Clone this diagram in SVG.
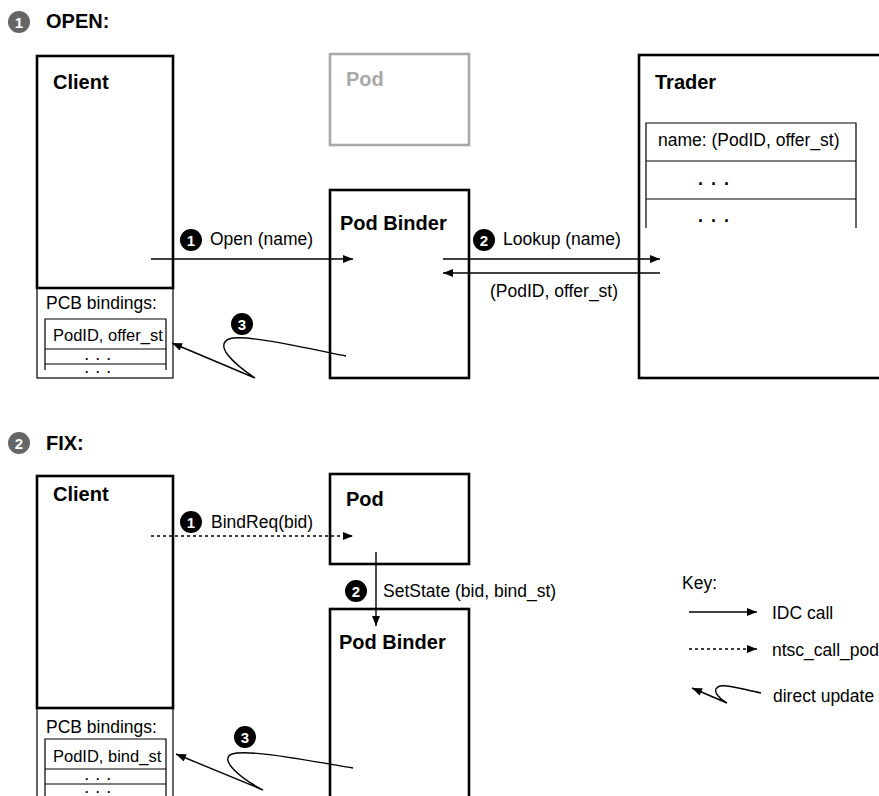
<svg xmlns="http://www.w3.org/2000/svg" width="879" height="796" viewBox="0 0 879 796">
<defs>
<marker id="ah" viewBox="0 0 10 8" refX="10" refY="4" markerWidth="11" markerHeight="8" markerUnits="userSpaceOnUse" orient="auto">
<path d="M0,0 L10,4 L0,8 Z" fill="#000"/>
</marker>
<style>
.thick{fill:none;stroke:#000;stroke-width:2.6}
.thin{fill:none;stroke:#000;stroke-width:1.2}
.grey{fill:none;stroke:#a8a8a8;stroke-width:2.6}
.b{font-family:"Liberation Sans",Arial,sans-serif;font-weight:bold;font-size:20px;fill:#000}
.t{font-family:"Liberation Sans",Arial,sans-serif;font-size:17.5px;fill:#000}
.dots{font-family:"Liberation Sans",Arial,sans-serif;font-weight:bold;font-size:18px;fill:#000;letter-spacing:1.5px;font-variant-ligatures:none}
.sdots{font-family:"Liberation Sans",Arial,sans-serif;font-weight:bold;font-size:12.5px;fill:#000;letter-spacing:2px;font-variant-ligatures:none}
.arr{fill:none;stroke:#000;stroke-width:1.4}
.dash{fill:none;stroke:#000;stroke-width:1.4;stroke-dasharray:3,3}
.bn{font-family:"Liberation Sans",Arial,sans-serif;font-weight:bold;font-size:15px;fill:#fff;text-anchor:middle}
</style>
</defs>
<rect width="879" height="796" fill="#fff"/>

<!-- Section headers -->
<g id="hdr-open">
<circle cx="19" cy="22" r="11" fill="#666"/><text class="bn" x="19" y="27.5">1</text>
<text class="b" x="46" y="28">OPEN:</text>
</g>
<g id="hdr-fix">
<circle cx="19" cy="443" r="11" fill="#666"/><text class="bn" x="19" y="448.5">2</text>
<text class="b" x="46" y="450">FIX:</text>
</g>

<!-- OPEN section nodes -->
<g id="client1">
<rect class="thick" x="37" y="56" width="136" height="232"/>
<text class="b" x="53" y="89">Client</text>
</g>
<g id="pcb1">
<rect class="thin" x="37" y="288" width="136" height="90"/>
<text class="t" x="46" y="309">PCB bindings:</text>
<path class="thin" d="M45,370 V319 H166 V370 M45,349 H166 M45,364 H166"/>
<text class="t" x="53" y="341" style="font-size:16.5px">PodID, offer_st</text>
<text class="sdots" x="85" y="360">. . .</text>
<text class="sdots" x="85" y="373">. . .</text>
</g>
<g id="pod1">
<rect class="grey" x="330" y="54" width="139" height="91"/>
<text class="b" x="346" y="86" style="fill:#a8a8a8">Pod</text>
</g>
<g id="podbinder1">
<rect class="thick" x="330" y="190" width="139" height="188"/>
<text class="b" x="340" y="230">Pod Binder</text>
</g>
<g id="trader">
<rect class="thick" x="639" y="55" width="262" height="323"/>
<text class="b" x="655" y="89">Trader</text>
<path class="thin" d="M646,228 V123 H856 V228 M646,161 H856 M646,199 H856"/>
<text class="t" x="658" y="146">name: (PodID, offer_st)</text>
<text class="dots" x="698" y="185">. . .</text>
<text class="dots" x="698" y="222">. . .</text>
</g>

<!-- FIX section nodes -->
<g id="client2">
<rect class="thick" x="37" y="476" width="136" height="232"/>
<text class="b" x="53" y="501">Client</text>
</g>
<g id="pcb2">
<rect class="thin" x="37" y="708" width="136" height="100"/>
<text class="t" x="46" y="733">PCB bindings:</text>
<path class="thin" d="M45,800 V739 H166 V800 M45,769 H166 M45,784 H166"/>
<text class="t" x="53" y="762" style="font-size:16.5px">PodID, bind_st</text>
<text class="sdots" x="85" y="780">. . .</text>
<text class="sdots" x="85" y="793">. . .</text>
</g>
<g id="pod2">
<rect class="thick" x="330" y="474" width="139" height="90"/>
<text class="b" x="346" y="506">Pod</text>
</g>
<g id="podbinder2">
<rect class="thick" x="330" y="609" width="139" height="200"/>
<text class="b" x="339" y="649">Pod Binder</text>
</g>

<!-- Key -->
<g id="key">
<text class="t" x="682" y="589">Key:</text>
<line class="arr" x1="689" y1="612" x2="757" y2="612" marker-end="url(#ah)"/>
<text class="t" x="772" y="619">IDC call</text>
<line class="dash" x1="689" y1="649" x2="757" y2="649" marker-end="url(#ah)"/>
<text class="t" x="772" y="656">ntsc_call_pod</text>
<path class="arr" d="M761,693 C745,690 728,684 720,686 C711,689 717,697 727,703 L692,688" marker-end="url(#ah)"/>
<text class="t" x="773" y="702">direct update</text>
</g>

<!-- Connectors -->
<g id="connectors">
<line class="arr" x1="151" y1="259" x2="353" y2="259" marker-end="url(#ah)"/>
<line class="arr" x1="443" y1="259" x2="660" y2="259" marker-end="url(#ah)"/>
<line class="arr" x1="660" y1="273" x2="443" y2="273" marker-end="url(#ah)"/>
<path class="arr" d="M346,356 C292,345 242,334 229,339 C215,345 231,362 255,378 L172,343" marker-end="url(#ah)"/>
<line class="dash" x1="151" y1="536" x2="353" y2="536" marker-end="url(#ah)"/>
<line class="arr" x1="376" y1="552" x2="376" y2="626" marker-end="url(#ah)"/>
<path class="arr" d="M353,768 C300,759 247,749 232,754 C219,759 238,777 263,790 L176,754" marker-end="url(#ah)"/>
</g>

<!-- Connector labels -->
<g id="labels">
<circle cx="191" cy="240" r="11" fill="#000"/><text class="bn" x="191" y="245.5">1</text>
<text class="t" x="210" y="245">Open (name)</text>
<circle cx="484" cy="240" r="11" fill="#000"/><text class="bn" x="484" y="245.5">2</text>
<text class="t" x="503" y="245">Lookup (name)</text>
<text class="t" x="490" y="297">(PodID, offer_st)</text>
<circle cx="242" cy="324" r="11" fill="#000"/><text class="bn" x="242" y="329.5">3</text>
<circle cx="191" cy="522" r="11" fill="#000"/><text class="bn" x="191" y="527.5">1</text>
<text class="t" x="211" y="528">BindReq(bid)</text>
<circle cx="356" cy="591" r="11" fill="#000"/><text class="bn" x="356" y="596.5">2</text>
<text class="t" x="383" y="597">SetState (bid, bind_st)</text>
<circle cx="245" cy="737" r="11" fill="#000"/><text class="bn" x="245" y="742.5">3</text>
</g>
</svg>
